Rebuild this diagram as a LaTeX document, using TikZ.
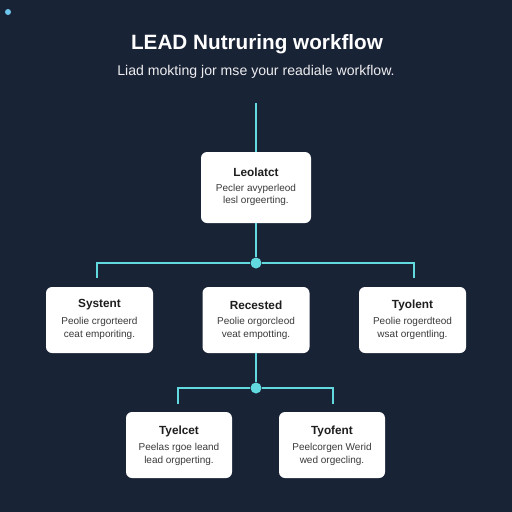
\documentclass[tikz,border=0pt]{standalone}
\usepackage{fontspec}
\setmainfont{Liberation Sans}
\definecolor{bgC}{HTML}{192336}
\definecolor{lineC}{HTML}{62D9DE}
\definecolor{textC}{HTML}{1E1E1E}
\definecolor{bodyC}{HTML}{3A3A3A}
\definecolor{dotC}{HTML}{6EC6EE}
\begin{document}
\begin{tikzpicture}[x=1pt,y=-1pt,
  conn/.style={draw=lineC,line width=2.8pt},
  card/.style={fill=white,rounded corners=6pt,inner sep=0pt},
  ctitle/.style={text=textC,font=\bfseries\fontsize{11.8}{14}\selectfont,inner sep=0pt},
  cbody/.style={text=bodyC,font=\fontsize{10}{12}\selectfont,inner sep=0pt},
  jdot/.style={circle,fill=lineC,minimum size=11pt,inner sep=0pt},
]
\useasboundingbox (0,0) rectangle (512,512);
\fill[bgC] (0,0) rectangle (512,512);
\fill[dotC] (8,12) circle (3);

\node[text=white,font=\bfseries\fontsize{20.7}{24}\selectfont] (title) at (257,44) {LEAD Nutruring workflow};
\node[text=white!92!bgC,font=\fontsize{14.1}{17}\selectfont] (sub) at (256,72) {Liad mokting jor mse your readiale workflow.};

\node[card,minimum width=110pt,minimum height=71pt] (c1) at (256,187.5) {};
\node[ctitle] (c1t) at (256,172) {Leolatct};
\node[cbody] (c1a) at (256,189) {Pecler avyperleod};
\node[cbody] (c1b) at (256,201) {lesl orgeerting.};

\node[card,minimum width=107pt,minimum height=66pt] (l2) at (99.5,320) {};
\node[ctitle] (l2t) at (99.5,305) {Systent};
\node[cbody] (l2a) at (99.5,322) {Peolie crgorteerd};
\node[cbody] (l2b) at (99.5,334.5) {ceat emporiting.};

\node[card,minimum width=107pt,minimum height=66pt] (m2) at (256,320) {};
\node[ctitle] (m2t) at (256,305) {Recested};
\node[cbody] (m2a) at (256,322) {Peolie orgorcleod};
\node[cbody] (m2b) at (256,334.5) {veat empotting.};

\node[card,minimum width=107pt,minimum height=66pt] (r2) at (412.5,320) {};
\node[ctitle] (r2t) at (412.5,305) {Tyolent};
\node[cbody] (r2a) at (412.5,322) {Peolie rogerdteod};
\node[cbody] (r2b) at (412.5,334.5) {wsat orgentling.};

\node[card,minimum width=106pt,minimum height=66pt] (l3) at (179,445) {};
\node[ctitle] (l3t) at (179,431) {Tyelcet};
\node[cbody] (l3a) at (179,448) {Peelas rgoe leand};
\node[cbody] (l3b) at (179,461) {lead orgperting.};

\node[card,minimum width=106pt,minimum height=66pt] (r3) at (332,445) {};
\node[ctitle] (r3t) at (332,431) {Tyofent};
\node[cbody] (r3a) at (332,448) {Peelcorgen Werid};
\node[cbody] (r3b) at (332,461) {wed orgecling.};

\coordinate (s0) at (256,103);
\node[jdot] (j1) at (256,263) {};
\node[jdot] (j2) at (256,388) {};
\coordinate (a1) at (97,278);
\coordinate (b1) at (414,278);
\coordinate (a2) at (178,404);
\coordinate (b2) at (333,404);

\draw[conn] (s0) -- (c1.north);
\draw[conn] (c1.south) -- (j1);
\draw[conn] (j1) -| (a1);
\draw[conn] (j1) -| (b1);
\draw[conn] (m2.south) -- (j2);
\draw[conn] (j2) -| (a2);
\draw[conn] (j2) -| (b2);
\end{tikzpicture}
\end{document}
